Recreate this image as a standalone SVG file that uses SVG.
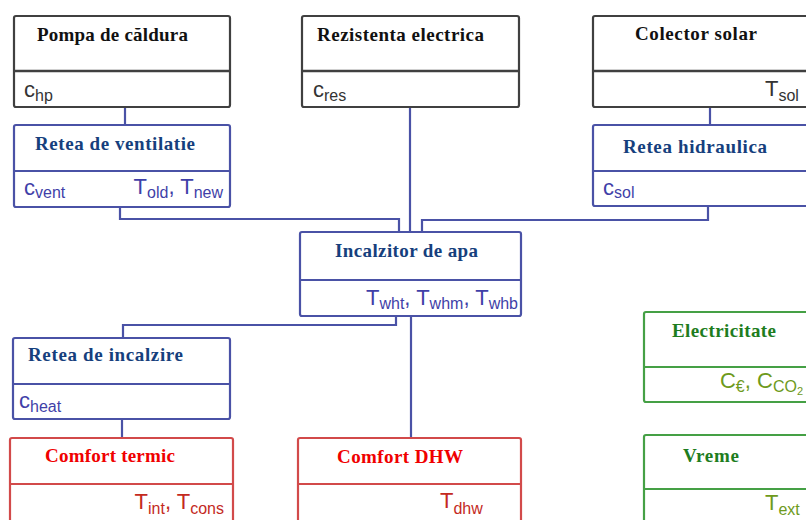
<svg xmlns="http://www.w3.org/2000/svg" width="806" height="520" viewBox="0 0 806 520">
<style>
.bx{fill:#fff;stroke-width:2.2}
.k{stroke:#404040}
.b{stroke:#4a52a6}
.r{stroke:#d24a4a}
.g{stroke:#45a045}
.t{font-family:"Liberation Serif","Times New Roman",serif;font-weight:bold;font-size:19px}
.tk{fill:#111}
.tb{fill:#163f7d}
.tr{fill:#f00000}
.tg{fill:#1e7d1e}
.l{font-family:"Liberation Sans",Arial,sans-serif;font-size:22px}
.s{font-size:16px}
.lk{fill:#333}
.lb{fill:#3f3fa8}
.lr{fill:#c42a1e}
.lg{fill:#6e9a1c}
.cn{fill:none;stroke:#4a52a6;stroke-width:2.2}
</style>
<rect width="806" height="520" fill="#fff"/>
<g id="connectors">
<path class="cn" d="M125 107V125"/>
<path class="cn" d="M710 107V125"/>
<path class="cn" d="M410 107V232"/>
<path class="cn" d="M120 207V219H399V232"/>
<path class="cn" d="M708 206V220H422V232"/>
<path class="cn" d="M396 316V325H123V338"/>
<path class="cn" d="M411 316V438"/>
<path class="cn" d="M122 419V438"/>
</g>
<g id="pompa">
<rect class="bx k" x="14" y="16" width="216" height="91" rx="2"/>
<path class="k" stroke-width="2.5" d="M14 71H230"/>
<text class="t tk" x="37" y="41" textLength="151" lengthAdjust="spacing">Pompa de căldura</text>
<text class="l lk" x="24" y="97">c<tspan class="s" dy="4">hp</tspan></text>
</g>
<g id="rezistenta">
<rect class="bx k" x="302" y="16" width="217" height="91" rx="2"/>
<path class="k" stroke-width="2.5" d="M302 71H519"/>
<text class="t tk" x="317" y="41" textLength="167" lengthAdjust="spacing">Rezistenta electrica</text>
<text class="l lk" x="313" y="97">c<tspan class="s" dy="4">res</tspan></text>
</g>
<g id="colector">
<rect class="bx k" x="593" y="16" width="230" height="91" rx="2"/>
<path class="k" stroke-width="2.5" d="M593 71H823"/>
<text class="t tk" x="635" y="40" textLength="122" lengthAdjust="spacing">Colector solar</text>
<text class="l lk" x="765" y="96">T<tspan class="s" dy="5">sol</tspan></text>
</g>
<g id="ventilatie">
<rect class="bx b" x="14" y="125" width="216" height="82" rx="2"/>
<path class="b" stroke-width="2.2" d="M14 171H230"/>
<text class="t tb" x="35" y="150" textLength="160" lengthAdjust="spacing">Retea de ventilatie</text>
<text class="l lb" x="24" y="195">c<tspan class="s" dy="3">vent</tspan></text>
<text class="l lb" x="223" y="194" text-anchor="end">T<tspan class="s" dy="4">old</tspan><tspan dy="-4">, T</tspan><tspan class="s" dy="4">new</tspan></text>
</g>
<g id="hidraulica">
<rect class="bx b" x="593" y="125" width="230" height="81" rx="2"/>
<path class="b" stroke-width="2.2" d="M593 171H823"/>
<text class="t tb" x="623" y="153" textLength="144" lengthAdjust="spacing">Retea hidraulica</text>
<text class="l lb" x="603" y="195">c<tspan class="s" dy="3">sol</tspan></text>
</g>
<g id="incalzitor">
<rect class="bx b" x="300" y="232" width="221" height="84" rx="2"/>
<path class="b" stroke-width="2.2" d="M300 280H521"/>
<text class="t tb" x="335" y="257" textLength="143" lengthAdjust="spacing">Incalzitor de apa</text>
<text class="l lb" x="518" y="305" text-anchor="end">T<tspan class="s" dy="4">wht</tspan><tspan dy="-4">, T</tspan><tspan class="s" dy="4">whm</tspan><tspan dy="-4">, T</tspan><tspan class="s" dy="4">whb</tspan></text>
</g>
<g id="incalzire">
<rect class="bx b" x="13" y="338" width="217" height="81" rx="2"/>
<path class="b" stroke-width="2.2" d="M13 384H230"/>
<text class="t tb" x="28" y="361" textLength="155" lengthAdjust="spacing">Retea de incalzire</text>
<text class="l lb" x="19" y="408">c<tspan class="s" dy="4">heat</tspan></text>
</g>
<g id="comfort-termic">
<rect class="bx r" x="10" y="438" width="223" height="100" rx="2"/>
<path class="r" stroke-width="2.2" d="M10 484H233"/>
<text class="t tr" x="45" y="462" textLength="130" lengthAdjust="spacing">Comfort termic</text>
<text class="l lr" x="224" y="509" text-anchor="end">T<tspan class="s" dy="5">int</tspan><tspan dy="-5">, T</tspan><tspan class="s" dy="5">cons</tspan></text>
</g>
<g id="comfort-dhw">
<rect class="bx r" x="298" y="438" width="223" height="100" rx="2"/>
<path class="r" stroke-width="2.2" d="M298 484H521"/>
<text class="t tr" x="337" y="463" textLength="126" lengthAdjust="spacing">Comfort DHW</text>
<text class="l lr" x="440" y="508">T<tspan class="s" dy="6">dhw</tspan></text>
</g>
<g id="electricitate">
<rect class="bx g" x="644" y="312" width="200" height="90" rx="2"/>
<path class="g" stroke-width="2.2" d="M644 367H844"/>
<text class="t tg" x="672" y="337" textLength="104" lengthAdjust="spacing">Electricitate</text>
<text class="l lg" x="803" y="388" text-anchor="end">C<tspan class="s" dy="4">€</tspan><tspan dy="-4">, C</tspan><tspan class="s" dy="4">CO</tspan><tspan font-size="11" dy="3">2</tspan></text>
</g>
<g id="vreme">
<rect class="bx g" x="644" y="435" width="200" height="100" rx="2"/>
<path class="g" stroke-width="2.2" d="M644 489H844"/>
<text class="t tg" x="683" y="462" textLength="56" lengthAdjust="spacing">Vreme</text>
<text class="l lg" x="765" y="510">T<tspan class="s" dy="5">ext</tspan></text>
</g>
</svg>
